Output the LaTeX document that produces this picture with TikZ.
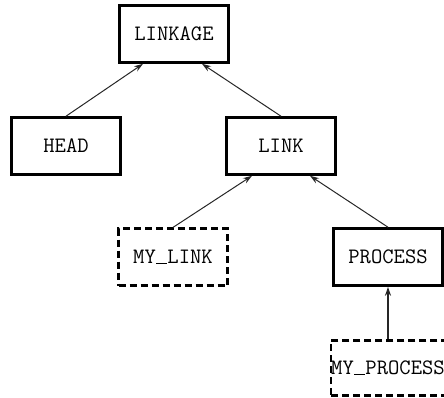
\documentclass[tikz,border=0pt]{standalone}
\usetikzlibrary{arrows.meta,calc}
% underscore drawn as a baseline rule, one typewriter cell wide
\newcommand\ttbar{\makebox[0.525em]{\rule[-0.2pt]{0.48em}{0.6pt}}}
\begin{document}
\begin{tikzpicture}[x=0.5pt,y=-0.5pt,
  cls/.style={draw,line width=1.3pt,rectangle,inner sep=0pt,
    minimum width=54.5pt,minimum height=28.5pt,
    font=\fontsize{11}{13}\selectfont\ttfamily},
  abstractcls/.style={cls,line width=1.1pt,dash pattern=on 3.5pt off 2pt},
  inherit/.style={line width=0.5pt,draw=black!85,-{Stealth[length=4.5pt,width=3pt]}},
  strong/.style={inherit,line width=1pt}]
  \useasboundingbox (0,0) rectangle (444,397);
  \node[cls] (linkage) at (174,34) {LINKAGE};
  \node[cls] (head) at (66,146) {HEAD};
  \node[cls] (link) at (281,146) {LINK};
  \node[abstractcls] (mylink) at (173,257) {MY\ttbar LINK};
  \node[cls] (process) at (388,257) {PROCESS};
  \node[abstractcls,minimum width=53.5pt,minimum height=27.5pt] (myprocess) at (388,368) {MY\ttbar PROCESS};
  \draw[inherit] (head.north) -- ($(linkage.south)+(-31,0)$);
  \draw[inherit] (link.north) -- ($(linkage.south)+(28,0)$);
  \draw[inherit] (mylink.north) -- ($(link.south)+(-29,0)$);
  \draw[inherit] (process.north) -- ($(link.south)+(29,0)$);
  \draw[strong] (myprocess.north) -- (process.south);
\end{tikzpicture}
\end{document}
